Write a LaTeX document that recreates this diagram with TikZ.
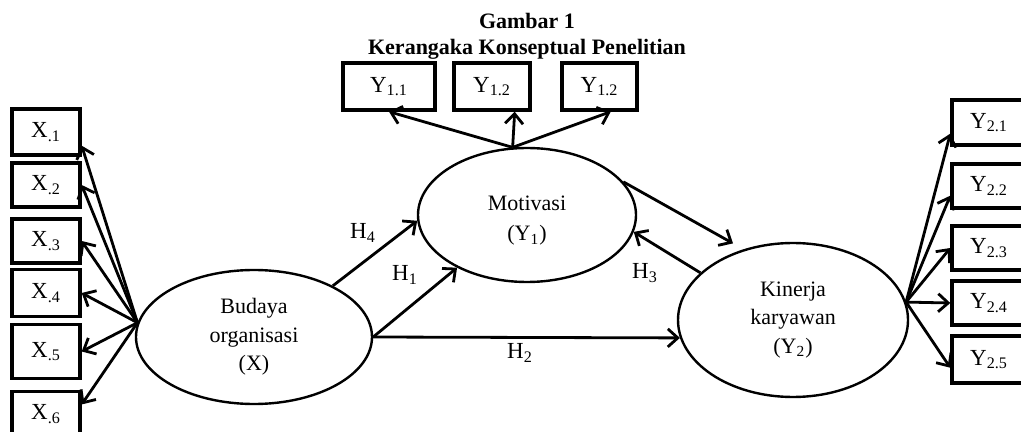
\documentclass[tikz,border=0pt]{standalone}
\usepackage{fontspec}
\setmainfont{Liberation Serif}
\usetikzlibrary{arrows.meta,shapes.geometric}
\begin{document}
\begin{tikzpicture}[x=0.5pt,y=-0.5pt,
  ind/.style={draw, line width=1.7pt, rectangle, inner sep=0pt, font=\fontsize{11.5}{13}\selectfont},
  lat/.style={draw, ellipse, line width=1.2pt, inner sep=0pt, align=center, font=\fontsize{11}{14.2}\selectfont},
  arr/.style={line width=1.4pt, -{Straight Barb[length=5pt,width=9pt]}},
  hlab/.style={font=\fontsize{11.5}{13}\selectfont, inner sep=0pt},
  ttl/.style={font=\bfseries\fontsize{11}{13}\selectfont, inner sep=0pt}]
\useasboundingbox (0,0) rectangle (1021,432);

\node[ttl] (t1) at (527,21) {Gambar 1};
\node[ttl] (t2) at (527,49) {Kerangaka Konseptual Penelitian};

% indicator boxes X
\node[ind, minimum width=34pt, minimum height=23pt] (x1) at (46,132) {X\textsubscript{.1}};
\node[ind, minimum width=34pt, minimum height=22pt] (x2) at (46,185) {X\textsubscript{.2}};
\node[ind, minimum width=34pt, minimum height=22pt] (x3) at (46,241) {X\textsubscript{.3}};
\node[ind, minimum width=34pt, minimum height=23.5pt] (x4) at (46,293) {X\textsubscript{.4}};
\node[ind, minimum width=34pt, minimum height=27pt] (x5) at (46,351.5) {X\textsubscript{.5}};
\node[ind, minimum width=34pt, minimum height=22.5pt] (x6) at (46,414) {X\textsubscript{.6}};

% indicator boxes Y1
\node[ind, minimum width=46pt, minimum height=23.5pt] (y11) at (389,86.5) {Y\textsubscript{1.1}};
\node[ind, minimum width=38pt, minimum height=23.5pt] (y12) at (492,86.5) {Y\textsubscript{1.2}};
\node[ind, minimum width=37.5pt, minimum height=23.5pt] (y13) at (599.5,86.5) {Y\textsubscript{1.2}};

% indicator boxes Y2
\node[ind, minimum width=37pt, minimum height=22.5pt] (y21) at (989,122.5) {Y\textsubscript{2.1}};
\node[ind, minimum width=37pt, minimum height=22pt] (y22) at (989,186) {Y\textsubscript{2.2}};
\node[ind, minimum width=37pt, minimum height=22pt] (y23) at (989,248) {Y\textsubscript{2.3}};
\node[ind, minimum width=37pt, minimum height=22pt] (y24) at (989,303) {Y\textsubscript{2.4}};
\node[ind, minimum width=37pt, minimum height=23.5pt] (y25) at (989,359.5) {Y\textsubscript{2.5}};

% latent variables
\node[lat, minimum width=118pt, minimum height=67pt] (bud) at (254,337) {Budaya\\organisasi\\(X)};
\node[lat, minimum width=109pt, minimum height=67pt, font=\fontsize{11}{15}\selectfont] (mot) at (527,215)
  {\raisebox{-5.5pt}[0pt][0pt]{Motivasi}\\\raisebox{-5.5pt}[0pt][0pt]{(Y\textsubscript{1})}};
\node[lat, minimum width=115pt, minimum height=77pt] (kin) at (793,320) {Kinerja\\karyawan\\(Y\textsubscript{2})};

% X arrows
\draw[arr] (bud.173) -- (x1.-21);
\draw[arr] (bud.173) -- (x2.east);
\draw[arr] (bud.173) -- (x3.east);
\draw[arr] (bud.173) -- (x4.east);
\draw[arr] (bud.173) -- (x5.east);
\draw[arr] (bud.173) -- (x6.15);

% Y1 arrows
\draw[arr] (mot.102) -- (y11.south);
\draw[arr] (mot.102) -- (y12.-48);
\draw[arr] (mot.102) -- (y13.-66);

% Y2 arrows
\draw[arr] (kin.9) -- (y21.196);
\draw[arr] (kin.9) -- (y22.194);
\draw[arr] (kin.9) -- (y23.west);
\draw[arr] (kin.9) -- (y24.west);
\draw[arr] (kin.9) -- (y25.192);

% structural paths
\draw[arr] (bud.33) -- (mot.183);
\draw[arr] (bud.east) -- (mot.217);
\draw[arr] (bud.east) -- (kin.189);
\draw[arr] (kin.153) -- (mot.-9);
\draw[arr, shorten >=6pt] (mot.19) -- (kin.125);

\node[hlab] (h4) at (363,233) {H\textsubscript{4}};
\node[hlab] (h1) at (405,275) {H\textsubscript{1}};
\node[hlab] (h2) at (520,353) {H\textsubscript{2}};
\node[hlab] (h3) at (645,273) {H\textsubscript{3}};
\end{tikzpicture}
\end{document}
